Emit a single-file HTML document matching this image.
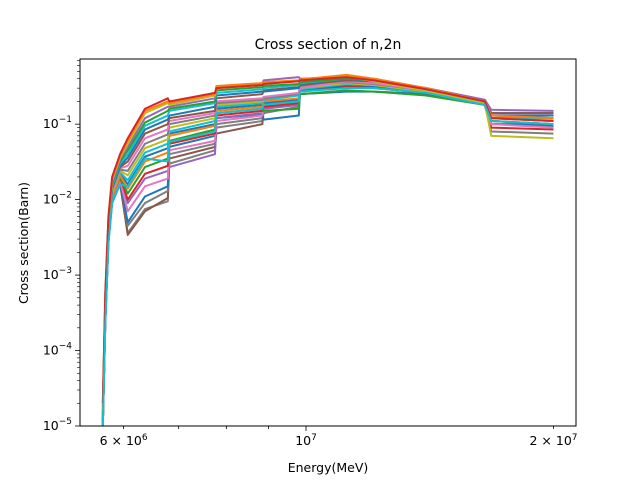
<!DOCTYPE html>
<html><head><meta charset="utf-8"><style>
body{margin:0;background:#fff}
svg{display:block;font-family:"DejaVu Sans","Liberation Sans",sans-serif}
</style></head><body>
<svg id="chart" width="640" height="480" viewBox="0 0 640 480">
<rect width="640" height="480" fill="#fff"/>
<text x="328" y="49" text-anchor="middle" font-size="14">Cross section of n,2n</text>
<text x="328" y="472" text-anchor="middle" font-size="12.5">Energy(MeV)</text>
<text x="28" y="243" text-anchor="middle" font-size="12.5" transform="rotate(-90 28 243)">Cross section(Barn)</text>
<g id="plot"></g>
</svg>
<script>
const energies = [5.66e6,5.70e6,5.75e6,5.81e6,5.94e6,6.07e6,6.37e6,6.79e6,6.82e6,7.75e6,7.78e6,8.85e6,8.88e6,9.8e6,9.83e6,11.2e6,12.1e6,14e6,16.5e6,16.8e6,20e6];
const s1=[2e-5,6e-4,6e-3,0.02,0.04,0.065,0.16,0.22,0.2,0.26,0.3,0.33,0.34,0.37,0.38,0.42,0.38,0.29,0.2,0.12,0.11];
const s2=[1.8e-5,5.5e-4,5.5e-3,0.019,0.038,0.06,0.15,0.2,0.19,0.25,0.32,0.35,0.36,0.38,0.39,0.45,0.4,0.3,0.2,0.13,0.12];
const s3=[1.6e-5,5e-4,5e-3,0.018,0.036,0.055,0.14,0.19,0.18,0.24,0.3,0.33,0.35,0.37,0.38,0.43,0.37,0.28,0.19,0.07,0.065];
const s4=[1.5e-5,4.5e-4,4.8e-3,0.017,0.034,0.05,0.12,0.17,0.17,0.22,0.3,0.35,0.38,0.42,0.4,0.42,0.4,0.3,0.21,0.155,0.15];
const s5=[1.4e-5,4.2e-4,4.5e-3,0.016,0.032,0.045,0.105,0.15,0.16,0.2,0.28,0.31,0.32,0.34,0.36,0.4,0.38,0.29,0.2,0.11,0.1];
const s6=[1.3e-5,4e-4,4.3e-3,0.015,0.03,0.04,0.095,0.13,0.15,0.19,0.26,0.29,0.3,0.33,0.35,0.4,0.38,0.3,0.2,0.12,0.12];
const s7=[1.2e-5,3.8e-4,4.1e-3,0.014,0.028,0.036,0.085,0.115,0.13,0.17,0.24,0.27,0.27,0.3,0.34,0.4,0.37,0.29,0.2,0.13,0.13];
const s8=[1.2e-5,3.6e-4,4e-3,0.014,0.027,0.032,0.075,0.1,0.12,0.15,0.22,0.25,0.28,0.31,0.33,0.38,0.37,0.3,0.21,0.14,0.14];
const s9=[1.1e-5,3.4e-4,3.8e-3,0.013,0.026,0.028,0.065,0.085,0.11,0.14,0.2,0.22,0.23,0.26,0.3,0.37,0.35,0.28,0.19,0.1,0.09];
const s10=[1.1e-5,3.3e-4,3.7e-3,0.013,0.025,0.024,0.055,0.073,0.1,0.13,0.19,0.21,0.22,0.25,0.32,0.36,0.34,0.28,0.19,0.11,0.1];
const s11=[1e-5,3.2e-4,3.6e-3,0.012,0.024,0.021,0.048,0.063,0.09,0.12,0.18,0.2,0.22,0.25,0.3,0.35,0.33,0.27,0.19,0.12,0.11];
const s12=[1e-5,3.1e-4,3.5e-3,0.012,0.023,0.018,0.042,0.055,0.08,0.11,0.17,0.19,0.21,0.24,0.29,0.34,0.33,0.27,0.19,0.13,0.12];
const s13=[1e-5,3e-4,3.4e-3,0.012,0.022,0.016,0.037,0.048,0.075,0.1,0.16,0.18,0.19,0.21,0.28,0.33,0.32,0.27,0.19,0.1,0.095];
const s14=[1e-5,3e-4,3.3e-3,0.011,0.021,0.014,0.032,0.042,0.07,0.095,0.15,0.17,0.2,0.22,0.3,0.34,0.33,0.27,0.19,0.12,0.11];
const s15=[1e-5,2.9e-4,3.2e-3,0.011,0.02,0.012,0.027,0.035,0.06,0.085,0.14,0.16,0.15,0.16,0.25,0.28,0.27,0.24,0.18,0.13,0.13];
const s16=[1e-5,2.8e-4,3.1e-3,0.011,0.02,0.01,0.022,0.028,0.055,0.075,0.13,0.15,0.17,0.19,0.27,0.32,0.3,0.26,0.18,0.09,0.085];
const s17=[1e-5,2.7e-4,3e-3,0.01,0.019,0.009,0.019,0.024,0.027,0.04,0.12,0.14,0.16,0.18,0.28,0.33,0.31,0.27,0.19,0.14,0.14];
const s18=[1e-5,2.6e-4,3e-3,0.01,0.018,0.007,0.015,0.019,0.045,0.06,0.11,0.13,0.18,0.2,0.3,0.36,0.34,0.28,0.19,0.11,0.1];
const s19=[1e-5,2.5e-4,2.9e-3,0.01,0.018,0.0045,0.009,0.013,0.04,0.055,0.1,0.12,0.16,0.18,0.29,0.34,0.33,0.27,0.19,0.12,0.11];
const s20=[1e-5,2.5e-4,2.8e-3,0.0095,0.017,0.0034,0.007,0.0105,0.035,0.05,0.075,0.1,0.17,0.19,0.28,0.33,0.32,0.27,0.19,0.12,0.12];
const s21=[1e-5,2.4e-4,2.8e-3,0.0095,0.017,0.005,0.011,0.015,0.05,0.07,0.12,0.135,0.115,0.13,0.25,0.27,0.27,0.25,0.18,0.1,0.1];
const s22=[1e-5,2.4e-4,2.7e-3,0.009,0.016,0.0036,0.0075,0.0095,0.03,0.045,0.09,0.11,0.14,0.17,0.27,0.31,0.31,0.26,0.18,0.08,0.075];
const s23=[1e-5,2.3e-4,2.6e-3,0.009,0.016,0.015,0.035,0.032,0.058,0.08,0.14,0.16,0.18,0.2,0.27,0.3,0.3,0.26,0.18,0.11,0.1];
const seriesList=[s22,s20,s19,s21,s17,s18,s16,s15,s13,s14,s12,s11,s10,s9,s8,s7,s6,s5,s4,s3,s2,s1,s23];
const seriesColors=["#7f7f7f","#8c564b","#7f7f7f","#1f77b4","#9467bd","#e377c2","#d62728","#2ca02c","#1f77b4","#ff7f0e","#17becf","#bcbd22","#7f7f7f","#e377c2","#8c564b","#1f77b4","#17becf","#2ca02c","#9467bd","#bcbd22","#ff7f0e","#d62728","#17becf"];
const xTickVals=[6e6,1e7,2e7];
const xTickLabels=[["6","×","10","6"],["","","10","7"],["2","×","10","7"]];
const yTickVals=[1e-5,1e-4,1e-3,1e-2,1e-1];
const yTickExps=["−5","−4","−3","−2","−1"];

const L=80,R=576,T=59,B=426;
const xmin=Math.log10(5.31e6),xmax=Math.log10(2.13e7);
const ymin=-5,ymax=Math.log10(0.73);
const xs=v=>L+(Math.log10(v)-xmin)/(xmax-xmin)*(R-L);
const ys=v=>B-(Math.log10(v)-ymin)/(ymax-ymin)*(B-T);
const NS="http://www.w3.org/2000/svg";
const plot=document.getElementById('plot');
function mk(tag,attrs,parent){const e=document.createElementNS(NS,tag);for(const k in attrs)e.setAttribute(k,attrs[k]);(parent||plot).appendChild(e);return e;}

const clip=mk('clipPath',{id:'clp'});mk('rect',{x:L,y:T,width:R-L,height:B-T},clip);
const lines=mk('g',{'clip-path':'url(#clp)'});


seriesList.forEach((s,i)=>{
  const d=s.map((v,j)=>(j?'L':'M')+xs(energies[j]).toFixed(2)+' '+ys(v).toFixed(2)).join(' ');
  const p=mk('path',{d:d,fill:'none',stroke:seriesColors[i],'stroke-width':2,'stroke-linejoin':'round'},lines);
  
  
});
const frame=mk('rect',{x:L,y:T,width:R-L,height:B-T,fill:'none',stroke:'#000','stroke-width':1});



[6e6,7e6,8e6,9e6,2e7].forEach(v=>{mk('line',{x1:xs(v),x2:xs(v),y1:B,y2:B+3,stroke:'#000','stroke-width':0.8});});
mk('line',{x1:xs(1e7),x2:xs(1e7),y1:B,y2:B+5,stroke:'#000','stroke-width':0.8});
xTickVals.forEach((v,i)=>{
  const lb=xTickLabels[i];
  const t=mk('text',{x:xs(v),y:B+19,'text-anchor':'middle','font-size':12.5});
  
  
  t.textContent=(lb[0]?lb[0]+' '+lb[1]+' ':'')+lb[2];
  const sp=mk('tspan',{dy:-5,'font-size':9},t);sp.textContent=lb[3];
});
for(let e=-5;e<0;e++){for(let m=2;m<=9;m++){const v=m*Math.pow(10,e);if(Math.log10(v)>ymax)continue;mk('line',{x1:L-3,x2:L,y1:ys(v),y2:ys(v),stroke:'#000','stroke-width':0.6});}}
yTickVals.forEach((v,i)=>{
  mk('line',{x1:L-5,x2:L,y1:ys(v),y2:ys(v),stroke:'#000','stroke-width':0.8});
  const t=mk('text',{x:L-8,y:ys(v)+4,'text-anchor':'end','font-size':12.5});
  
  
  t.textContent='10';
  const sp=mk('tspan',{dy:-6,'font-size':9},t);sp.textContent=yTickExps[i];
});
</script>
</body></html>
